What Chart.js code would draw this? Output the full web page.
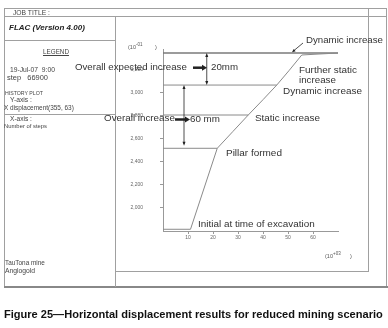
<!DOCTYPE html>
<html>
<head>
<meta charset="utf-8">
<script src="https://cdn.jsdelivr.net/npm/chart.js@4/dist/chart.umd.min.js"></script>
<style>
body{margin:0;width:388px;height:328px;overflow:hidden;background:#fff;font-family:"Liberation Sans",Arial,sans-serif;}
#wrap{position:relative;width:388px;height:328px;}
.ln{position:absolute;background:#a0a0a0;}
.t{position:absolute;color:#444;font-size:7px;white-space:nowrap;line-height:1;will-change:transform;transform:translateZ(0);}
.n{font-family:"Liberation Sans Narrow","Liberation Sans",Arial,sans-serif;}
canvas{position:absolute;left:0;top:0;}
</style>
</head>
<body>
<div id="wrap">
  <!-- frame -->
  <div class="ln" style="left:4px;top:8px;width:383px;height:1px"></div>
  <div class="ln" style="left:4px;top:8px;width:1px;height:279px"></div>
  <div class="ln" style="left:386px;top:8px;width:1px;height:279px"></div>
  <div class="ln" style="left:4px;top:286px;width:384px;height:2px;background:#888"></div>
  <div class="ln" style="left:4px;top:16px;width:383px;height:1px"></div>
  <div class="ln" style="left:115px;top:16px;width:1px;height:271px"></div>
  <div class="ln" style="left:4px;top:40px;width:111px;height:1px"></div>
  <div class="ln" style="left:4px;top:114px;width:111px;height:1px"></div>
  <div class="ln" style="left:368px;top:8px;width:1px;height:264px"></div>
  <div class="ln" style="left:115px;top:271px;width:254px;height:1px"></div>

  <!-- legend panel -->
  <div class="t n" data-w="37" data-x="13" data-y="13.3">JOB TITLE :</div>
  <div class="t" data-w="76" data-x="9" data-y="28.3" style="font-weight:bold;font-style:italic;color:#222">FLAC (Version 4.00)</div>
  <div class="t n" data-w="26" data-x="43" data-y="51.7" style="text-decoration:underline">LEGEND</div>
  <div class="t n" data-w="45" data-x="10" data-y="70">19-Jul-07&nbsp;&nbsp;9:00</div>
  <div class="t n" data-w="41" data-x="7" data-y="77.3">step&nbsp;&nbsp;&nbsp;66900</div>
  <div class="t n" data-w="38" data-x="5" data-y="93.3">HISTORY PLOT</div>
  <div class="t n" data-w="22" data-x="10" data-y="100">Y-axis :</div>
  <div class="t n" data-w="70" data-x="4" data-y="108.3">X displacement(355, 63)</div>
  <div class="t n" data-w="22" data-x="10" data-y="119">X-axis :</div>
  <div class="t n" data-w="43" data-x="4" data-y="126.7">Number of steps</div>
  <div class="t n" data-w="40" data-x="5" data-y="263.3">TauTona mine</div>
  <div class="t n" data-w="30" data-x="5" data-y="271.7">Anglogold</div>

  <canvas id="c" width="388" height="328"></canvas>

  <div class="t n" data-w="379" data-x="4" data-y="315" style="font-weight:bold;color:#111">Figure 25—Horizontal displacement results for reduced mining scenario</div>
</div>

<script>
// history: number of steps (10^3) vs x displacement (10^-1)
var steps = [0, 11, 21.7, 28, 34.1, 40, 45.5, 50.5, 55.5, 62, 70];
var displacement = [1815, 1815, 2518, 2665, 2807, 2940, 3067, 3195, 3328, 3336, 3345];

// stage levels drawn across from the y axis
var levelValues = [3345, 3067, 2807, 2518];
var levelEnds = [70, 45.5, 34.1, 21.7];

// measured increases (vertical arrows)
var arrowSteps = [17.5, 8.4];
var arrowTop = [3345, 3067];
var arrowBottom = [3067, 2540];

var xTicks = [10, 20, 30, 40, 50, 60];
var yTicks = [2000, 2200, 2400, 2600, 2800, 3000, 3200];

var FONT = '"Liberation Sans", Arial, sans-serif';

// fit the html texts to the widths seen in the figure
document.querySelectorAll('.t').forEach(function (el) {
  var base = 10;
  el.style.fontSize = base + 'px';
  var w = el.getBoundingClientRect().width;
  var size = base * parseFloat(el.dataset.w) / w;
  el.style.fontSize = size + 'px';
  var h = el.getBoundingClientRect().height;
  el.style.left = el.dataset.x + 'px';
  el.style.top = (parseFloat(el.dataset.y) - h / 2) + 'px';
});

var datasets = [{
  data: steps.map(function (s, i) { return {x: s, y: displacement[i]}; }),
  borderColor: '#8a8a8a',
  borderWidth: 1,
  pointRadius: 0
}];
levelValues.forEach(function (v, i) {
  datasets.push({
    data: [{x: 0, y: v}, {x: levelEnds[i], y: v}],
    borderColor: i === 0 ? '#7a7a7a' : '#8a8a8a',
    borderWidth: i === 0 ? 1.5 : 1,
    pointRadius: 0
  });
});

function arrowHead(ctx, x, y, ang, len, wid) {
  ctx.beginPath();
  ctx.moveTo(x, y);
  ctx.lineTo(x - len * Math.cos(ang) + wid * Math.sin(ang), y - len * Math.sin(ang) - wid * Math.cos(ang));
  ctx.lineTo(x - len * Math.cos(ang) - wid * Math.sin(ang), y - len * Math.sin(ang) + wid * Math.cos(ang));
  ctx.closePath();
  ctx.fill();
}

function label(ctx, text, x, y, w) {
  ctx.font = '10px ' + FONT;
  var size = 10 * w / ctx.measureText(text).width;
  ctx.font = size + 'px ' + FONT;
  ctx.fillText(text, x, y);
}

var notes = {
  id: 'notes',
  afterDraw: function (chart) {
    var ctx = chart.ctx, xs = chart.scales.x, ys = chart.scales.y;
    ctx.save();
    ctx.fillStyle = '#222';
    ctx.strokeStyle = '#222';
    ctx.textBaseline = 'middle';
    ctx.textAlign = 'left';

    // vertical double arrows
    ctx.lineWidth = 0.8;
    arrowSteps.forEach(function (s, i) {
      var px = xs.getPixelForValue(s);
      var t = ys.getPixelForValue(arrowTop[i]), b = ys.getPixelForValue(arrowBottom[i]);
      ctx.beginPath(); ctx.moveTo(px, t + 2); ctx.lineTo(px, b - 2); ctx.stroke();
      arrowHead(ctx, px, t, -Math.PI / 2, 4, 1.5);
      arrowHead(ctx, px, b, Math.PI / 2, 4, 1.5);
    });

    // thick pointer arrows
    ctx.lineWidth = 2.5;
    [[193, 203, 67.7], [175, 186, 119.5]].forEach(function (a) {
      ctx.beginPath(); ctx.moveTo(a[0], a[2]); ctx.lineTo(a[1], a[2]); ctx.stroke();
      arrowHead(ctx, a[1] + 4, a[2], 0, 5, 3);
    });

    // small arrow to the dynamic jump
    ctx.lineWidth = 0.8;
    ctx.beginPath(); ctx.moveTo(303, 43); ctx.lineTo(294, 50.5); ctx.stroke();
    arrowHead(ctx, 292, 52.3, Math.atan2(9.3, -11), 3.5, 1.5);

    ctx.fillStyle = '#333';
    [['Dynamic increase', 306, 40.5, 77],
     ['Overall expected increase', 75, 67, 112],
     ['20mm', 211, 67, 27],
     ['Further static', 299, 70.5, 58],
     ['increase', 299, 80.5, 37],
     ['Dynamic increase', 283, 91, 79],
     ['Overall increase', 104, 118.5, 71],
     ['60 mm', 190, 119.5, 30],
     ['Static increase', 255, 118.5, 65],
     ['Pillar formed', 226, 153.3, 56],
     ['Initial at time of excavation', 198, 224.5, 117]
    ].forEach(function (l) { label(ctx, l[0], l[1], l[2], l[3]); });

    // axis multipliers
    ctx.fillStyle = '#555';
    ctx.font = '5.5px ' + FONT;
    ctx.fillText('(10', 128, 47.5);
    ctx.fillText(')', 155, 47.5);
    ctx.fillText('(10', 325, 256);
    ctx.fillText(')', 350, 256);
    ctx.font = '4.5px ' + FONT;
    ctx.fillText('-01', 136, 45);
    ctx.fillText('+03', 333, 253.5);
    ctx.restore();
  }
};

new Chart(document.getElementById('c'), {
  type: 'line',
  data: {datasets: datasets},
  plugins: [notes],
  options: {
    responsive: false,
    animation: false,
    events: [],
    layout: {padding: {left: 0, top: 49, right: 50, bottom: 67}},
    plugins: {legend: {display: false}, tooltip: {enabled: false}},
    elements: {line: {tension: 0}},
    scales: {
      x: {
        type: 'linear', min: 0, max: 70,
        afterBuildTicks: function (s) { s.ticks = xTicks.map(function (v) { return {value: v}; }); },
        afterFit: function (s) { s.height = 30; },
        grid: {drawOnChartArea: false, tickLength: 3, color: '#999'},
        border: {color: '#999'},
        ticks: {font: {size: 5, family: FONT}, color: '#666', padding: 1, maxRotation: 0, autoSkip: false}
      },
      y: {
        type: 'linear', min: 1800, max: 3380,
        afterBuildTicks: function (s) { s.ticks = yTicks.map(function (v) { return {value: v}; }); },
        afterFit: function (s) { s.width = 163; },
        grid: {drawOnChartArea: false, tickLength: 3, color: '#999'},
        border: {color: '#999'},
        ticks: {font: {size: 5, family: FONT}, color: '#666', padding: 17, autoSkip: false,
          callback: function (v) { return v.toLocaleString('en-US'); }}
      }
    }
  }
});
</script>
</body>
</html>
